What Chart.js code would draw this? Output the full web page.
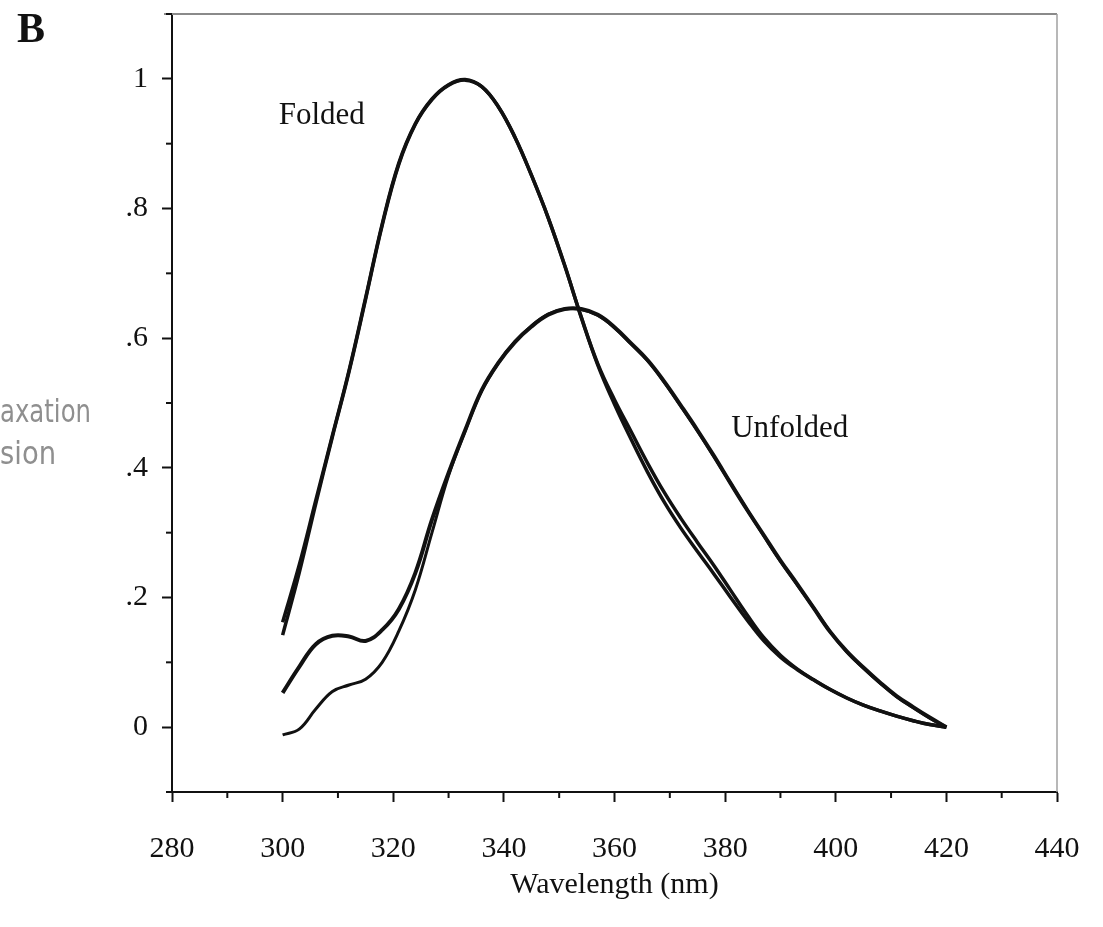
<!DOCTYPE html>
<html>
<head>
<meta charset="utf-8">
<title>Emission spectra</title>
<script src="https://cdn.jsdelivr.net/npm/chart.js@4.4.1/dist/chart.umd.min.js"></script>
<style>
    html, body { margin: 0; padding: 0; background: #fff; }
    #wrap { width: 1103px; height: 927px; }
</style>
</head>
<body>
<div id="wrap"><canvas id="spectraChart" width="1103" height="927"></canvas></div>
<script>
// ================= DATA =================
const wavelengths = [300, 303, 306, 309, 312, 315, 318, 321, 324, 327,
                     330, 333, 336, 339, 342, 345, 348, 351, 354, 357,
                     360, 363, 366, 369, 372, 375, 378, 381, 384, 387,
                     390, 393, 396, 399, 402, 405, 408, 411, 414, 417, 420];

const foldedFit = [0.142, 0.238, 0.345, 0.448, 0.548, 0.660, 0.774, 0.868, 0.930, 0.968,
                   0.990, 0.998, 0.988, 0.957, 0.910, 0.851, 0.786, 0.712, 0.632, 0.558,
                   0.498, 0.444, 0.393, 0.347, 0.307, 0.271, 0.236, 0.200, 0.165, 0.133,
                   0.108, 0.089, 0.073, 0.058, 0.045, 0.034, 0.025, 0.017, 0.010, 0.004, 0.000];

const foldedData = [0.162, 0.250, 0.350, 0.450, 0.550, 0.662, 0.776, 0.870, 0.931, 0.969,
                    0.991, 0.999, 0.988, 0.957, 0.910, 0.851, 0.786, 0.712, 0.632, 0.560,
                    0.505, 0.456, 0.407, 0.362, 0.322, 0.285, 0.249, 0.211, 0.173, 0.138,
                    0.111, 0.090, 0.073, 0.058, 0.045, 0.034, 0.025, 0.017, 0.010, 0.004, 0.000];

const unfoldedData = [0.053, 0.093, 0.128, 0.141, 0.140, 0.133, 0.150, 0.182, 0.238, 0.320,
                      0.392, 0.458, 0.520, 0.562, 0.594, 0.618, 0.636, 0.645, 0.645, 0.636,
                      0.617, 0.592, 0.566, 0.533, 0.496, 0.458, 0.418, 0.376, 0.335, 0.296,
                      0.257, 0.221, 0.184, 0.147, 0.117, 0.092, 0.069, 0.048, 0.031, 0.015, 0.000];

const unfoldedFit = [-0.012, -0.003, 0.028, 0.055, 0.065, 0.074, 0.100, 0.148, 0.212, 0.300,
                     0.388, 0.457, 0.519, 0.562, 0.595, 0.619, 0.637, 0.645, 0.644, 0.635,
                     0.616, 0.591, 0.565, 0.532, 0.495, 0.457, 0.417, 0.376, 0.335, 0.295,
                     0.256, 0.220, 0.184, 0.147, 0.116, 0.091, 0.068, 0.047, 0.030, 0.014, 0.000];

const xTickLabels = ["280", "300", "320", "340", "360", "380", "400", "420", "440"];
const yTickLabels = ["0", ".2", ".4", ".6", ".8", "1"];

// curve labels, in data units (left edge, baseline)
const curveLabels = ["Folded", "Unfolded"];
const curveLabelX = [299.3, 381.1];
const curveLabelY = [0.931, 0.448];


// ================= HELPERS =================
const INK = "#111";
const SERIF = "'Liberation Serif', 'Times New Roman', serif";

function isMajorX(v) {
    return Math.round(v) % 20 === 0;
}

function isMajorY(v) {
    const k = Math.round(v * 10);
    return k >= 0 && k <= 10 && k % 2 === 0;
}

function toPoints(values) {
    return wavelengths.map((w, i) => ({ x: w, y: values[i] }));
}

function lineSet(label, values, width) {
    return {
        label: label,
        data: toPoints(values),
        borderColor: INK,
        borderWidth: width,
        pointRadius: 0,
        fill: false,
        tension: 0.4
    };
}


// ================= DECORATION PLUGIN =================
const decorPlugin = {
    id: "decor",
    afterDraw(chart) {
        const { ctx, chartArea, scales } = chart;
        const xs = scales.x;
        const ys = scales.y;

        ctx.save();

        // frame: top and right sides
        ctx.strokeStyle = "#8a8a8a";
        ctx.lineWidth = 2;
        ctx.beginPath();
        ctx.moveTo(chartArea.left - 8, chartArea.top);
        ctx.lineTo(chartArea.right, chartArea.top);
        ctx.stroke();
        ctx.strokeStyle = "#a0a0a0";
        ctx.lineWidth = 1.5;
        ctx.beginPath();
        ctx.moveTo(chartArea.right, chartArea.top);
        ctx.lineTo(chartArea.right, chartArea.bottom);
        ctx.stroke();

        // minor ticks
        ctx.strokeStyle = INK;
        ctx.lineWidth = 2;
        xs.ticks.forEach(t => {
            if (isMajorX(t.value)) return;
            const px = xs.getPixelForValue(t.value);
            ctx.beginPath();
            ctx.moveTo(px, chartArea.bottom);
            ctx.lineTo(px, chartArea.bottom + 6);
            ctx.stroke();
        });
        ys.ticks.forEach(t => {
            if (isMajorY(t.value)) return;
            const py = ys.getPixelForValue(t.value);
            ctx.beginPath();
            ctx.moveTo(chartArea.left - 6, py);
            ctx.lineTo(chartArea.left, py);
            ctx.stroke();
        });

        // curve labels
        ctx.fillStyle = INK;
        ctx.font = "31px " + SERIF;
        ctx.textAlign = "left";
        ctx.textBaseline = "alphabetic";
        curveLabels.forEach((txt, i) => {
            ctx.fillText(txt, xs.getPixelForValue(curveLabelX[i]), ys.getPixelForValue(curveLabelY[i]));
        });

        // panel letter
        ctx.font = "bold 42px " + SERIF;
        ctx.fillText("B", 17, 42);

        // clipped grey caption at the left edge
        ctx.fillStyle = "#8f8f8f";
        ctx.font = "32px 'DejaVu Sans', sans-serif";
        [["axation", 91, 422], ["sion", 56, 464]].forEach(([txt, w, base]) => {
            const natural = ctx.measureText(txt).width;
            ctx.save();
            ctx.translate(0, base);
            ctx.scale(w / natural, 1);
            ctx.fillText(txt, 0, 0);
            ctx.restore();
        });

        ctx.restore();
    }
};


// ================= CHART =================
new Chart(document.getElementById("spectraChart"), {
    type: "line",
    data: {
        datasets: [
            lineSet("Unfolded fit", unfoldedFit, 3),
            lineSet("Unfolded", unfoldedData, 4),
            lineSet("Folded fit", foldedFit, 3.5),
            lineSet("Folded", foldedData, 3.5)
        ]
    },
    options: {
        responsive: false,
        animation: false,
        devicePixelRatio: 1,
        layout: { padding: { top: 14, right: 46, left: 0, bottom: 0 } },
        plugins: {
            legend: { display: false },
            tooltip: { enabled: false }
        },
        scales: {
            x: {
                type: "linear",
                min: 280,
                max: 440,
                afterFit(scale) {
                    scale.height = 135;
                    scale.paddingLeft = 0;
                    scale.paddingRight = 0;
                },
                border: { display: true, color: INK, width: 2 },
                grid: {
                    drawOnChartArea: false,
                    drawTicks: true,
                    tickLength: 10,
                    tickWidth: 2,
                    tickColor: c => isMajorX(c.tick.value) ? INK : "rgba(0,0,0,0)"
                },
                ticks: {
                    stepSize: 10,
                    autoSkip: false,
                    maxRotation: 0,
                    padding: 29,
                    color: INK,
                    font: { family: SERIF, size: 30 },
                    callback: v => isMajorX(v) ? xTickLabels[Math.round((v - 280) / 20)] : ""
                },
                title: {
                    display: true,
                    text: "Wavelength (nm)",
                    color: INK,
                    font: { family: SERIF, size: 30 },
                    padding: { top: 0, bottom: 24 }
                }
            },
            y: {
                type: "linear",
                min: -0.1,
                max: 1.1,
                afterFit(scale) {
                    scale.width = 172;
                    scale.paddingTop = 0;
                    scale.paddingBottom = 0;
                },
                border: { display: true, color: INK, width: 2 },
                grid: {
                    drawOnChartArea: false,
                    drawTicks: true,
                    tickLength: 10,
                    tickWidth: 2,
                    tickColor: c => isMajorY(c.tick.value) ? INK : "rgba(0,0,0,0)"
                },
                ticks: {
                    stepSize: 0.1,
                    autoSkip: false,
                    padding: 14,
                    color: INK,
                    font: { family: SERIF, size: 30 },
                    callback: v => isMajorY(v) ? yTickLabels[Math.round(v * 10) / 2] : ""
                }
            }
        }
    },
    plugins: [decorPlugin]
});
</script>
</body>
</html>
